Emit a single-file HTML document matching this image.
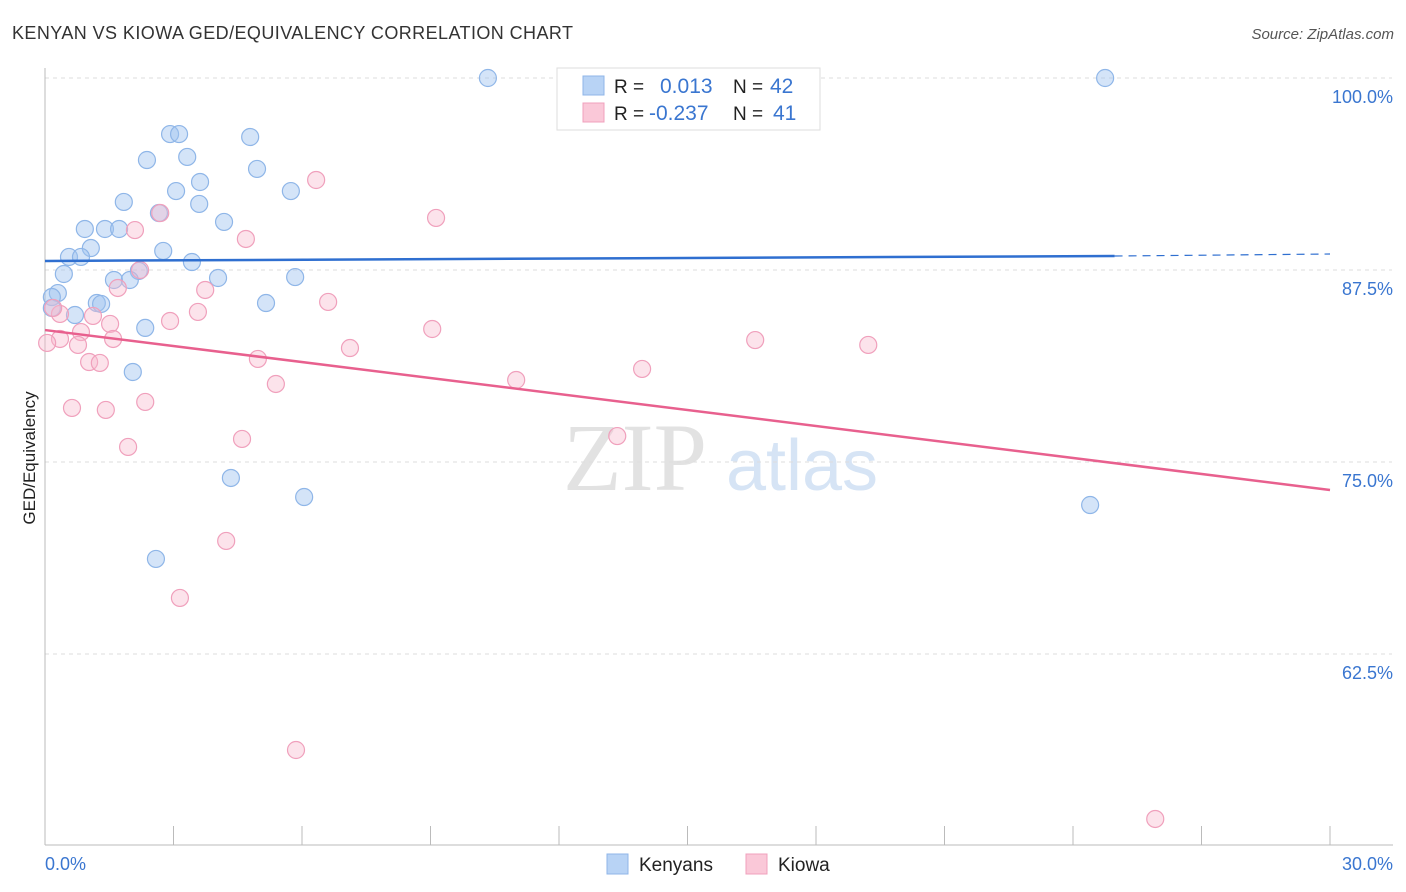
<!DOCTYPE html>
<html><head><meta charset="utf-8"><style>
body{margin:0;width:1406px;height:892px;background:#fff;font-family:"Liberation Sans",sans-serif;overflow:hidden}
svg{position:absolute;left:0;top:0}
</style></head><body>
<svg id="chart" width="1406" height="892">
<text x="12" y="39" font-size="18" fill="#333" textLength="561">KENYAN VS KIOWA GED/EQUIVALENCY CORRELATION CHART</text>
<text x="1394" y="39" font-size="15" fill="#555" font-style="italic" text-anchor="end">Source: ZipAtlas.com</text>
<text x="35" y="458" font-size="17" fill="#222" transform="rotate(-90 35 458)" text-anchor="middle">GED/Equivalency</text>
<g><text x="635" y="490" font-size="96" fill="#e2e2e2" font-family="Liberation Serif" text-anchor="middle">ZIP</text><text x="802" y="490" font-size="72" fill="#d6e4f5" text-anchor="middle">atlas</text></g>
<g id="grid"></g><g id="marks"></g>
<g>
<rect x="557" y="68" width="263" height="62" fill="#fff" stroke="#ddd"/>
<rect x="583" y="76" width="21" height="19" fill="#b8d3f5" stroke="#8fb6e8"/>
<text x="614" y="93" font-size="19" fill="#222">R =</text><text x="660" y="93" font-size="21" fill="#3a76d0">0.013</text>
<text x="733" y="93" font-size="19" fill="#222">N =</text><text x="770" y="93" font-size="21" fill="#3a76d0">42</text>
<rect x="583" y="103" width="21" height="19" fill="#fac8d8" stroke="#f0a0bc"/>
<text x="614" y="120" font-size="19" fill="#222">R =</text><text x="649" y="120" font-size="21" fill="#3a76d0">-0.237</text>
<text x="733" y="120" font-size="19" fill="#222">N =</text><text x="773" y="120" font-size="21" fill="#3a76d0">41</text>
</g>
<g>
<rect x="607" y="854" width="21" height="20" fill="#b8d3f5" stroke="#8fb6e8"/><text x="639" y="871" font-size="19" fill="#222">Kenyans</text>
<rect x="746" y="854" width="21" height="20" fill="#fac8d8" stroke="#f0a0bc"/><text x="778" y="871" font-size="19" fill="#222">Kiowa</text>
</g>
</svg>
<script>
const yTicks=[100,87.5,75,62.5];
const yTickLabels=["100.0%","87.5%","75.0%","62.5%"];
const blueX=[10.34,24.75,2.92,3.13,4.79,2.38,3.32,4.95,3.62,3.06,5.74,1.84,3.60,2.66,4.18,0.93,1.40,1.73,1.07,2.76,0.56,0.84,3.43,0.44,2.19,1.61,1.98,4.04,5.84,0.30,0.16,1.21,1.31,5.16,0.16,0.70,2.34,2.05,4.34,6.05,24.40,2.59];
const blueY=[100,100,96.35,96.35,96.16,94.66,94.86,94.08,93.23,92.64,92.64,91.93,91.80,91.21,90.63,90.17,90.17,90.17,88.93,88.74,88.35,88.35,88.02,87.24,87.44,86.85,86.85,86.98,87.04,86.0,85.74,85.35,85.29,85.35,85.03,84.57,83.73,80.86,73.96,72.72,72.2,68.69];
const pinkX=[6.33,9.13,2.69,2.10,4.69,2.22,1.70,3.74,6.61,3.57,1.12,0.35,2.92,1.52,0.84,9.04,0.35,1.59,0.77,0.05,7.12,16.58,19.22,4.97,1.03,1.28,13.94,11.0,5.39,0.63,1.42,2.34,13.36,4.60,1.94,4.23,3.15,5.86,25.92,0.19];
const pinkY=[93.36,90.89,91.21,90.1,89.52,87.5,86.33,86.2,85.42,84.77,84.51,84.64,84.18,83.99,83.46,83.66,83.01,83.01,82.62,82.75,82.42,82.94,82.62,81.71,81.51,81.45,81.06,80.34,80.08,78.52,78.39,78.91,76.69,76.5,75.98,69.86,66.15,56.25,51.76,85.03];
const blueTrend=[88.09,88.41,88.54]; const blueTrendX=[0,24.97,30];
const pinkTrend=[83.59,73.18]; const pinkTrendX=[0,30];
const xs=v=>45+v/30*1285, ys=v=>78+(100-v)/12.5*192;
const NS="http://www.w3.org/2000/svg";
function mk(t,a,p){const e=document.createElementNS(NS,t);for(const k in a)e.setAttribute(k,a[k]);p.appendChild(e);return e;}
const grid=document.getElementById('grid'),marks=document.getElementById('marks');
yTicks.forEach((t,i)=>{
 const l=mk('line',{x1:45,x2:1392,y1:ys(t),y2:ys(t),stroke:'#ddd','stroke-dasharray':'4 4'},grid);
 
 
 const tx=mk('text',{x:1393,y:ys(t)+25,'font-size':18,fill:'#3a76d0','text-anchor':'end'},grid);tx.textContent=yTickLabels[i];
 
 
});
mk('line',{x1:45,x2:45,y1:68,y2:845,stroke:'#bbb'},grid);
mk('line',{x1:45,x2:1393,y1:845,y2:845,stroke:'#bbb'},grid);
for(let i=0;i<=10;i++){const x=xs(i*3);mk('line',{x1:x,x2:x,y1:826,y2:845,stroke:'#bbb'},grid);}
const x0=mk('text',{x:45,y:870,'font-size':18,fill:'#3a76d0'},grid);x0.textContent='0.0%';


const x1=mk('text',{x:1393,y:870,'font-size':18,fill:'#3a76d0','text-anchor':'end'},grid);x1.textContent='30.0%';


blueX.forEach((v,i)=>{const c=mk('circle',{cx:xs(v),cy:ys(blueY[i]),r:8.5,fill:'rgba(160,196,240,0.45)',stroke:'#8fb6e8','stroke-width':1.2},marks);
 
 });
pinkX.forEach((v,i)=>{const c=mk('circle',{cx:xs(v),cy:ys(pinkY[i]),r:8.5,fill:'rgba(248,185,205,0.4)',stroke:'#f0a0bc','stroke-width':1.2},marks);
 
 });
const bl=mk('line',{x1:xs(blueTrendX[0]),y1:ys(blueTrend[0]),x2:xs(blueTrendX[1]),y2:ys(blueTrend[1]),stroke:'#2f6fd0','stroke-width':2.5},marks);


mk('line',{x1:xs(blueTrendX[1]),y1:ys(blueTrend[1]),x2:xs(blueTrendX[2]),y2:ys(blueTrend[2]),stroke:'#2f6fd0','stroke-width':1.2,'stroke-dasharray':'8 6'},marks);
const pl=mk('line',{x1:xs(pinkTrendX[0]),y1:ys(pinkTrend[0]),x2:xs(pinkTrendX[1]),y2:ys(pinkTrend[1]),stroke:'#e8608e','stroke-width':2.5},marks);


</script>
</body></html>
